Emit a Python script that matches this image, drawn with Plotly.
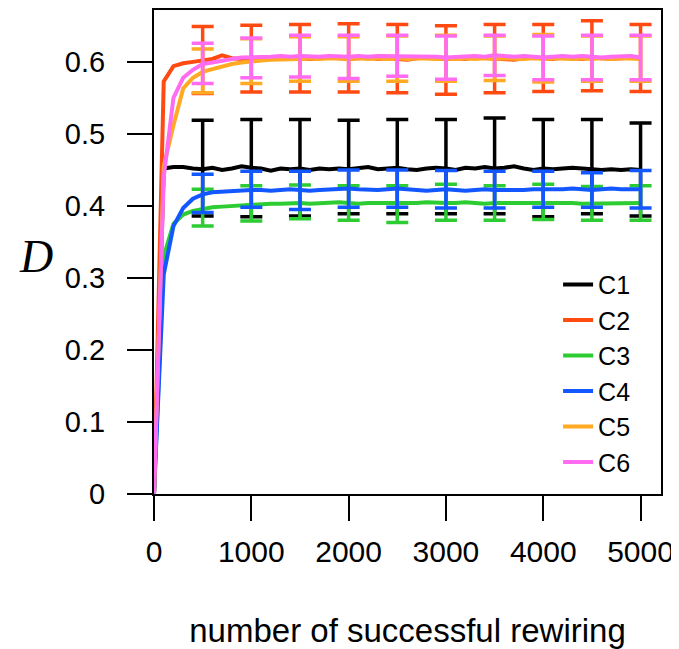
import plotly.graph_objects as go

# ---- data ----
steps = list(range(0, 5001, 100))
err_steps = [500, 1000, 1500, 2000, 2500, 3000, 3500, 4000, 4500, 5000]
names = ["C1", "C2", "C3", "C4", "C5", "C6"]

c1 = [0, 0.452, 0.454, 0.454, 0.452, 0.451, 0.453, 0.450, 0.452, 0.455, 0.453,
      0.452, 0.449, 0.452, 0.451, 0.452, 0.450, 0.452, 0.451, 0.452, 0.451,
      0.452, 0.454, 0.451, 0.452, 0.453, 0.451, 0.450, 0.452, 0.453, 0.452,
      0.450, 0.453, 0.452, 0.454, 0.452, 0.453, 0.455, 0.452, 0.450, 0.452,
      0.451, 0.452, 0.453, 0.452, 0.451, 0.450, 0.451, 0.450, 0.451, 0.450]
c2 = [0, 0.573, 0.594, 0.598, 0.600, 0.602, 0.604, 0.609, 0.605, 0.604, 0.605,
      0.606, 0.604, 0.605, 0.606, 0.605, 0.604, 0.605, 0.606, 0.605, 0.604,
      0.605, 0.606, 0.604, 0.605, 0.604, 0.603, 0.605, 0.606, 0.605, 0.604,
      0.605, 0.604, 0.606, 0.605, 0.605, 0.604, 0.603, 0.605, 0.606, 0.605,
      0.604, 0.606, 0.605, 0.604, 0.606, 0.605, 0.604, 0.605, 0.606, 0.605]
c3 = [0, 0.330, 0.375, 0.388, 0.393, 0.396, 0.398, 0.399, 0.400, 0.401, 0.402,
      0.402, 0.403, 0.403, 0.404, 0.404, 0.403, 0.404, 0.404, 0.405, 0.404,
      0.403, 0.404, 0.404, 0.403, 0.403, 0.404, 0.404, 0.405, 0.404, 0.404,
      0.404, 0.405, 0.404, 0.403, 0.404, 0.404, 0.405, 0.405, 0.404, 0.405,
      0.404, 0.404, 0.404, 0.403, 0.403, 0.404, 0.404, 0.403, 0.404, 0.404]
c4 = [0, 0.305, 0.372, 0.397, 0.410, 0.416, 0.419, 0.420, 0.421, 0.422, 0.422,
      0.422, 0.421, 0.422, 0.423, 0.422, 0.421, 0.422, 0.423, 0.423, 0.424,
      0.423, 0.422, 0.422, 0.423, 0.424, 0.423, 0.422, 0.421, 0.422, 0.423,
      0.422, 0.421, 0.422, 0.423, 0.422, 0.422, 0.421, 0.422, 0.423, 0.423,
      0.422, 0.423, 0.424, 0.423, 0.422, 0.423, 0.424, 0.423, 0.423, 0.423]
c5 = [0, 0.455, 0.512, 0.563, 0.578, 0.586, 0.590, 0.594, 0.597, 0.599, 0.601,
      0.602, 0.603, 0.603, 0.604, 0.604, 0.605, 0.604, 0.605, 0.604, 0.604,
      0.605, 0.604, 0.605, 0.604, 0.605, 0.604, 0.605, 0.604, 0.604, 0.605,
      0.604, 0.605, 0.604, 0.605, 0.604, 0.605, 0.604, 0.604, 0.605, 0.604,
      0.605, 0.604, 0.604, 0.605, 0.604, 0.605, 0.604, 0.605, 0.604, 0.604]
c6 = [0, 0.440, 0.550, 0.578, 0.589, 0.597, 0.599, 0.602, 0.604, 0.606, 0.606,
      0.607, 0.607, 0.608, 0.607, 0.608, 0.607, 0.607, 0.608, 0.607, 0.607,
      0.608, 0.607, 0.608, 0.608, 0.608, 0.607, 0.608, 0.607, 0.607, 0.606,
      0.607, 0.607, 0.608, 0.607, 0.609, 0.608, 0.607, 0.608, 0.607, 0.606,
      0.607, 0.608, 0.607, 0.608, 0.607, 0.606, 0.607, 0.607, 0.608, 0.606]

# upper / lower ends of the error bars at err_steps
c1_hi = [0.519, 0.520, 0.520, 0.519, 0.520, 0.520, 0.522, 0.520, 0.520, 0.515]
c1_lo = [0.386, 0.385, 0.386, 0.389, 0.389, 0.389, 0.389, 0.385, 0.389, 0.386]
c2_hi = [0.649, 0.651, 0.652, 0.653, 0.652, 0.650, 0.652, 0.652, 0.657, 0.652]
c2_lo = [0.556, 0.558, 0.558, 0.558, 0.557, 0.555, 0.557, 0.559, 0.560, 0.559]
c3_hi = [0.423, 0.428, 0.429, 0.428, 0.428, 0.430, 0.428, 0.430, 0.427, 0.428]
c3_lo = [0.372, 0.379, 0.382, 0.380, 0.377, 0.380, 0.380, 0.381, 0.380, 0.380]
c4_hi = [0.444, 0.448, 0.448, 0.450, 0.450, 0.449, 0.448, 0.448, 0.446, 0.449]
c4_lo = [0.391, 0.398, 0.395, 0.398, 0.398, 0.397, 0.397, 0.398, 0.398, 0.397]
c5_hi = [0.618, 0.632, 0.635, 0.635, 0.636, 0.637, 0.636, 0.638, 0.636, 0.636]
c5_lo = [0.557, 0.570, 0.573, 0.573, 0.573, 0.573, 0.574, 0.572, 0.573, 0.573]
c6_hi = [0.626, 0.633, 0.637, 0.637, 0.637, 0.636, 0.637, 0.636, 0.637, 0.637]
c6_lo = [0.570, 0.578, 0.579, 0.577, 0.580, 0.576, 0.581, 0.575, 0.575, 0.575]

x_ticks = [0, 1000, 2000, 3000, 4000, 5000]
y_ticks = [0, 0.1, 0.2, 0.3, 0.4, 0.5, 0.6]
y_tick_labels = ["0", "0.1", "0.2", "0.3", "0.4", "0.5", "0.6"]

colors = ["#000000", "#FF4A12", "#2ECC33", "#1257FF", "#FFAA22", "#FF6CF2"]

series = [c1, c2, c3, c4, c5, c6]
his = [c1_hi, c2_hi, c3_hi, c4_hi, c5_hi, c6_hi]
los = [c1_lo, c2_lo, c3_lo, c4_lo, c5_lo, c6_lo]

fig = go.Figure()
for name, ys, hi, lo, col in zip(names, series, his, los, colors):
    fig.add_trace(go.Scatter(x=steps, y=ys, mode="lines", name=name,
                             line=dict(color=col, width=4), showlegend=True))
    means = [ys[steps.index(s)] for s in err_steps]
    plus = [h - m for h, m in zip(hi, means)]
    minus = [m - l for m, l in zip(means, lo)]
    fig.add_trace(go.Scatter(
        x=err_steps, y=means, mode="markers", showlegend=False,
        marker=dict(size=2, color=col),
        error_y=dict(type="data", symmetric=False, array=plus, arrayminus=minus,
                     color=col, thickness=3.5, width=11)))

font = "Liberation Sans, Arial, sans-serif"
# the page adds an 8px body margin, so the figure is 8px smaller than the window
fig.update_layout(
    width=671, height=641,
    margin=dict(l=146, r=18, t=2, b=155, autoexpand=False),
    plot_bgcolor="white", paper_bgcolor="white",
    font=dict(family=font, size=29, color="black"),
    showlegend=True,
    legend=dict(x=0.797, y=0.48, xanchor="left", yanchor="top",
                font=dict(family=font, size=25, color="black"),
                bgcolor="rgba(0,0,0,0)", borderwidth=0, tracegroupgap=0),
    xaxis=dict(range=[0, 5210], tickvals=x_ticks, ticktext=[str(v) for v in x_ticks],
               automargin=False,
               showgrid=False, zeroline=False, showline=True, mirror=True,
               linecolor="black", linewidth=2, ticks="outside", ticklen=25,
               tickwidth=2, tickcolor="black", ticklabelstandoff=5,
               tickfont=dict(family=font, size=30),
               title=dict(text="number of successful rewiring",
                          font=dict(family=font, size=33), standoff=52)),
    yaxis=dict(range=[0, 0.672], tickvals=y_ticks, ticktext=y_tick_labels,
               automargin=False,
               showgrid=False, zeroline=False, showline=True, mirror=True,
               linecolor="black", linewidth=2, ticks="outside", ticklen=25,
               tickwidth=2, tickcolor="black", ticklabelstandoff=16,
               tickfont=dict(family=font, size=29)),
    annotations=[dict(text="<i>D</i>", xref="paper", yref="y", x=-0.233, y=0.33,
                      showarrow=False, xanchor="center", yanchor="middle",
                      font=dict(family="Liberation Serif, Times New Roman, serif",
                                size=46, color="black"))],
)

fig.write_html("out.html")
